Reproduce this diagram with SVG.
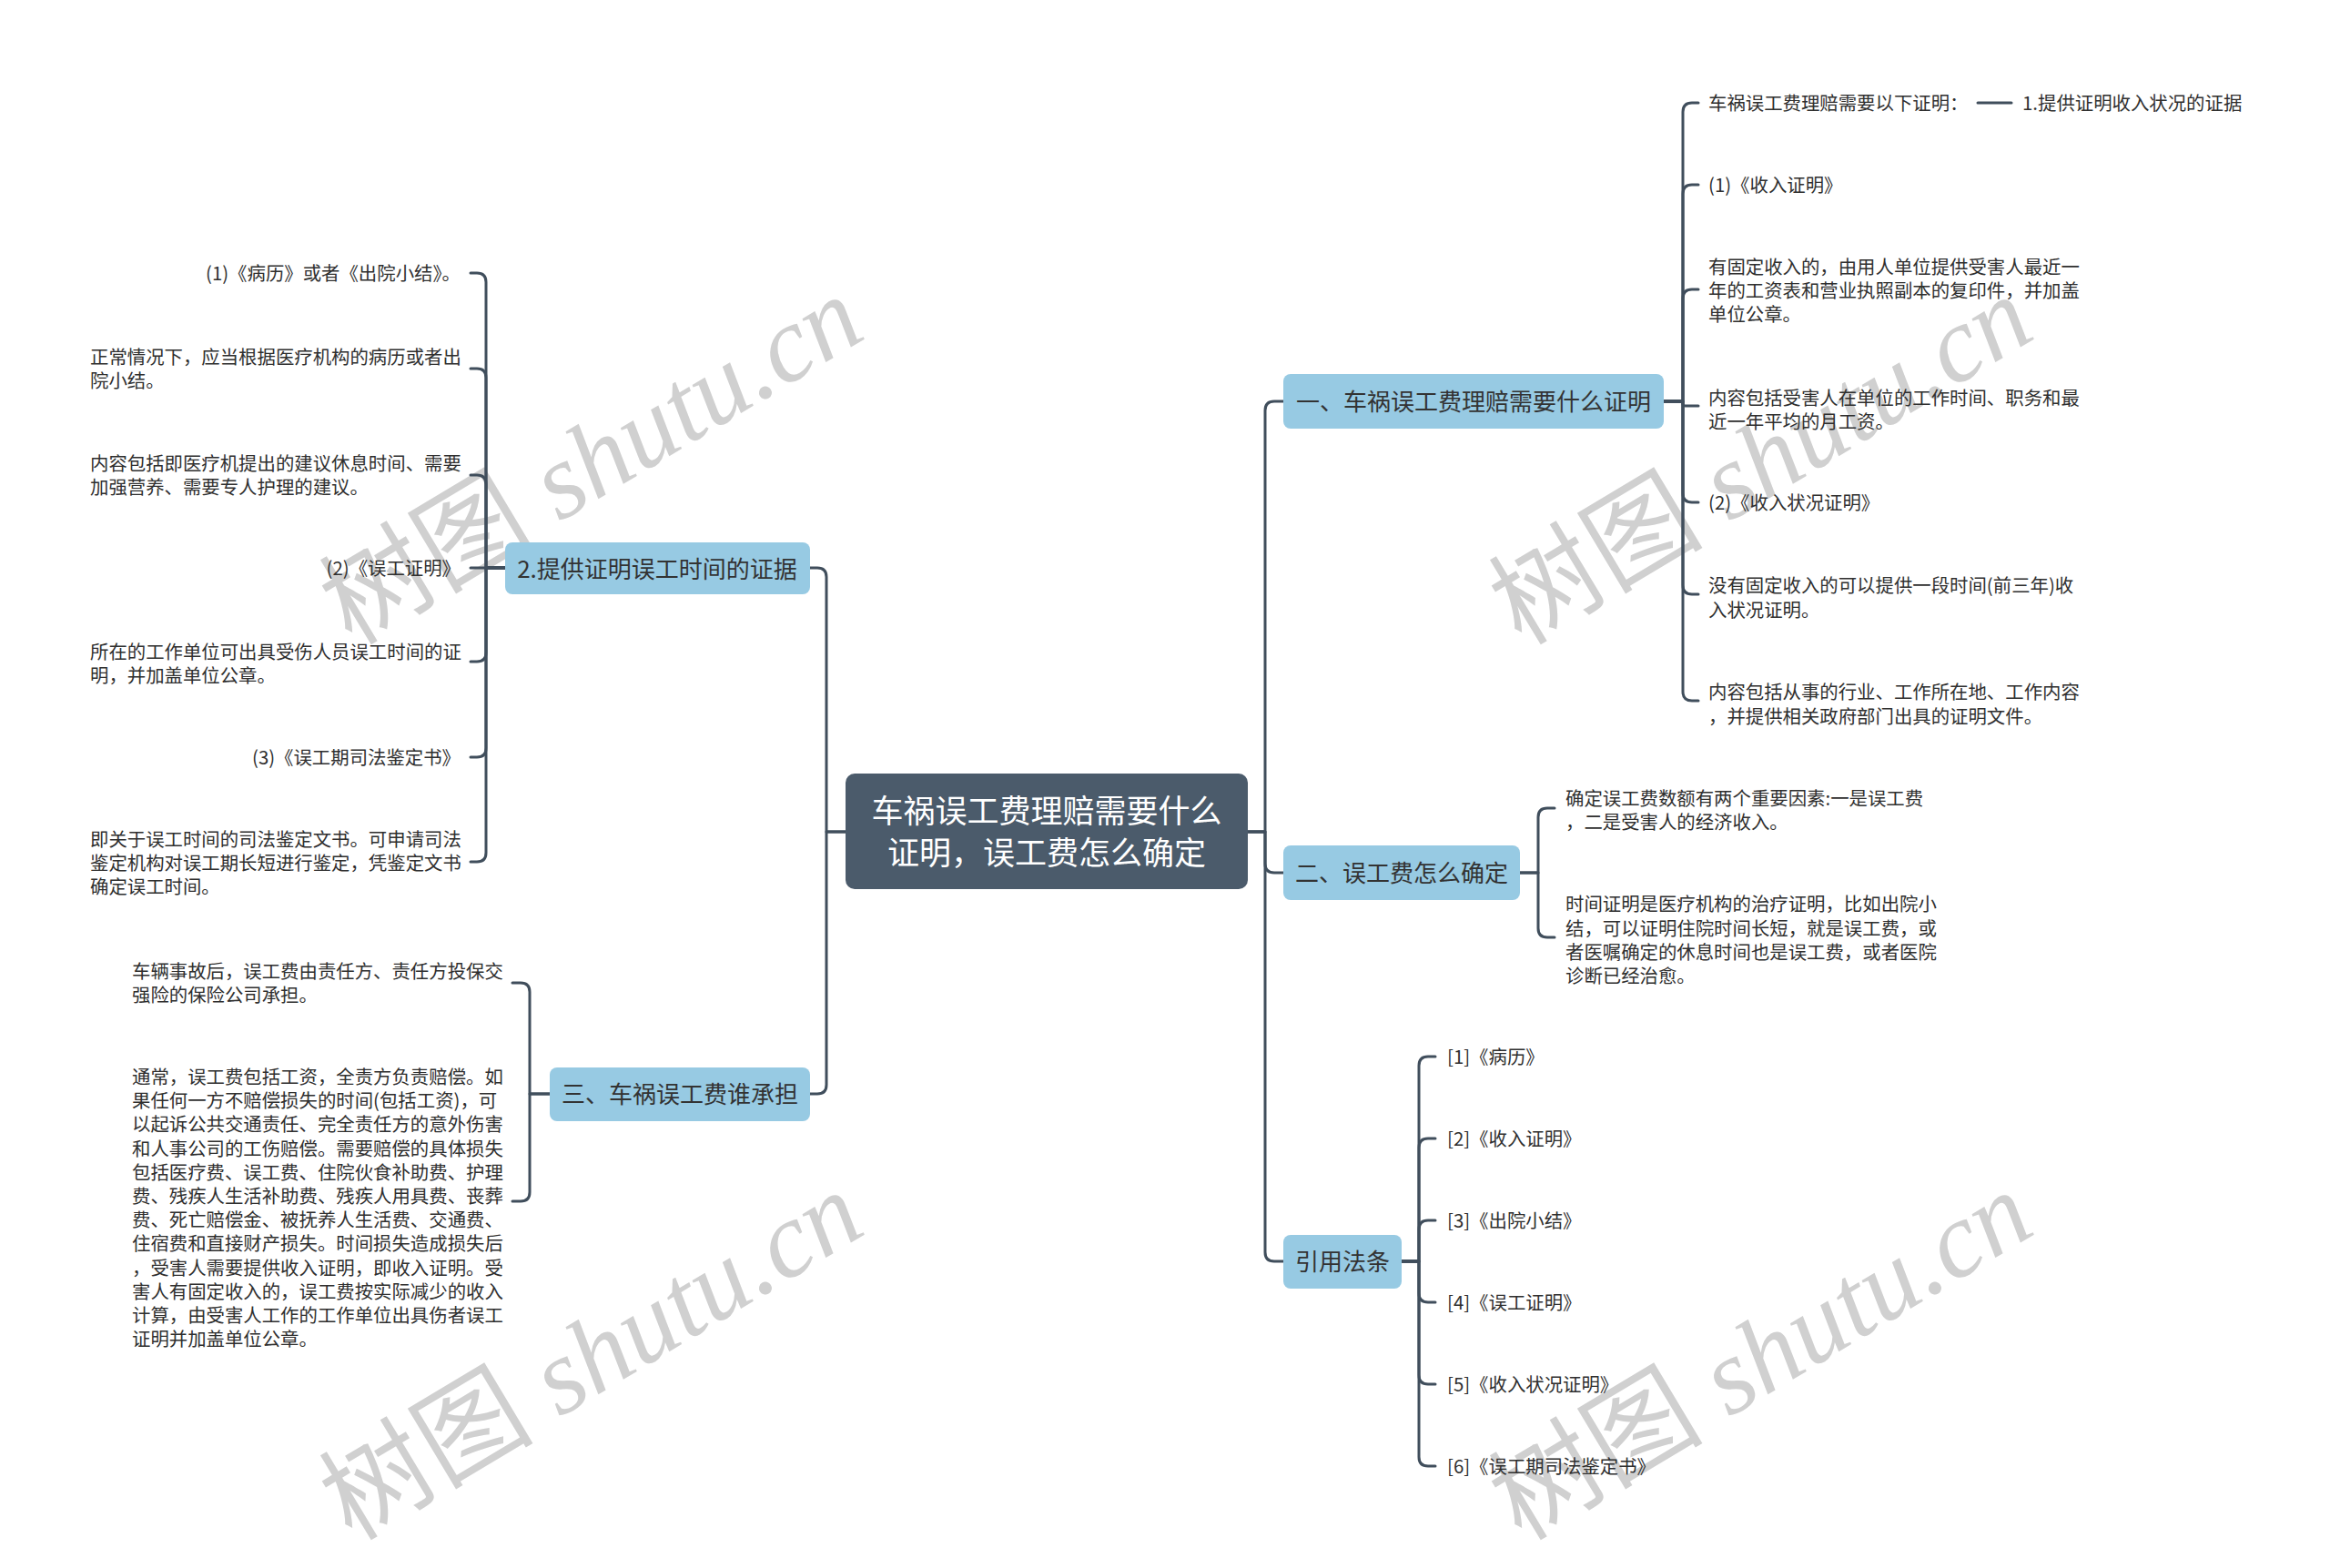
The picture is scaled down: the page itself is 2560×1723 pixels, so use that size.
<svg xmlns="http://www.w3.org/2000/svg" width="2560" height="1723" viewBox="0 0 2560 1723">
<style>
.ln{fill:none;stroke:#404e5c;stroke-width:3;stroke-linecap:round;stroke-linejoin:round}
.t{font-family:"Noto Sans CJK SC","Noto Sans",sans-serif;font-size:20.4px;fill:#2f2f2f;dominant-baseline:central}
.e{text-anchor:end}
.bx{fill:#97cae3}
.nt{font-family:"Noto Sans CJK SC","Noto Sans",sans-serif;font-size:26px;fill:#333;text-anchor:middle;dominant-baseline:central}
.rt{font-family:"Noto Sans CJK SC","Noto Sans",sans-serif;font-size:35px;fill:#ffffff;text-anchor:middle;dominant-baseline:central}
.wm{font-family:"Liberation Serif","Noto Sans CJK SC",serif;font-size:118px;fill:#d0d0d0;text-anchor:middle;dominant-baseline:central}
.wm tspan.i{font-style:italic}
</style>
<rect width="2560" height="1723" fill="#ffffff"/>
<g id="watermarks">
<text class="wm" transform="translate(650,506) rotate(-31)">树图 <tspan class="i">shutu.cn</tspan></text>
<text class="wm" transform="translate(1935,506) rotate(-31)">树图 <tspan class="i">shutu.cn</tspan></text>
<text class="wm" transform="translate(650,1490) rotate(-31)">树图 <tspan class="i">shutu.cn</tspan></text>
<text class="wm" transform="translate(1935,1490) rotate(-31)">树图 <tspan class="i">shutu.cn</tspan></text>
</g>
<g id="connectors">
<path class="ln" d="M929,914 H908 V634 Q908,624 898,624 H890"/>
<path class="ln" d="M929,914 H908 V1192 Q908,1202 898,1202 H890"/>
<path class="ln" d="M1371,914 H1390 V451 Q1390,441 1400,441 H1410"/>
<path class="ln" d="M1371,914 H1390 V949 Q1390,959 1400,959 H1410"/>
<path class="ln" d="M1371,914 H1390 V1376 Q1390,1386 1400,1386 H1410"/>
<path class="ln" d="M555,624 H534 V310 Q534,300 524,300 H517"/>
<path class="ln" d="M555,624 H534 V415 Q534,405 524,405 H517"/>
<path class="ln" d="M555,624 H534 V532 Q534,522 524,522 H517"/>
<path class="ln" d="M555,624 H517"/>
<path class="ln" d="M555,624 H534 V717 Q534,727 524,727 H517"/>
<path class="ln" d="M555,624 H534 V822 Q534,832 524,832 H517"/>
<path class="ln" d="M555,624 H534 V937 Q534,947 524,947 H517"/>
<path class="ln" d="M604,1202 H582 V1090 Q582,1080 572,1080 H563"/>
<path class="ln" d="M604,1202 H582 V1310 Q582,1320 572,1320 H563"/>
<path class="ln" d="M1828,441 H1849 V123 Q1849,113 1859,113 H1866"/>
<path class="ln" d="M1828,441 H1849 V213 Q1849,203 1859,203 H1866"/>
<path class="ln" d="M1828,441 H1849 V328 Q1849,318 1859,318 H1866"/>
<path class="ln" d="M1828,441 H1849 V443.5 Q1849,446 1851.5,446 H1866"/>
<path class="ln" d="M1828,441 H1849 V542 Q1849,552 1859,552 H1866"/>
<path class="ln" d="M1828,441 H1849 V643 Q1849,653 1859,653 H1866"/>
<path class="ln" d="M1828,441 H1849 V760 Q1849,770 1859,770 H1866"/>
<path class="ln" d="M2173,113 H2210"/>
<path class="ln" d="M1670,959 H1690 V898 Q1690,888 1700,888 H1708"/>
<path class="ln" d="M1670,959 H1690 V1020 Q1690,1030 1700,1030 H1708"/>
<path class="ln" d="M1540,1386 H1559 V1171 Q1559,1161 1569,1161 H1577"/>
<path class="ln" d="M1540,1386 H1559 V1261 Q1559,1251 1569,1251 H1577"/>
<path class="ln" d="M1540,1386 H1559 V1351 Q1559,1341 1569,1341 H1577"/>
<path class="ln" d="M1540,1386 H1559 V1421 Q1559,1431 1569,1431 H1577"/>
<path class="ln" d="M1540,1386 H1559 V1511 Q1559,1521 1569,1521 H1577"/>
<path class="ln" d="M1540,1386 H1559 V1601 Q1559,1611 1569,1611 H1577"/>
</g>
<g id="root">
<rect x="929" y="850" width="442" height="127" rx="10" fill="#4b5b6b"/>
<text class="rt"><tspan x="1150" y="888">车祸误工费理赔需要什么</tspan><tspan x="1150" y="934">证明，误工费怎么确定</tspan></text>
</g>
<g id="n-left-1">
<rect class="bx" x="555" y="596" width="335" height="57" rx="8"/>
<text class="nt" x="722" y="623.5">2.提供证明误工时间的证据</text>
</g>
<g id="n-left-2">
<rect class="bx" x="604" y="1173" width="286" height="59" rx="8"/>
<text class="nt" x="747" y="1200.5">三、车祸误工费谁承担</text>
</g>
<g id="n-right-1">
<rect class="bx" x="1410" y="411" width="418" height="60" rx="8"/>
<text class="nt" x="1619" y="439.5">一、车祸误工费理赔需要什么证明</text>
</g>
<g id="n-right-2">
<rect class="bx" x="1410" y="929" width="260" height="60" rx="8"/>
<text class="nt" x="1540" y="957.5">二、误工费怎么确定</text>
</g>
<g id="n-right-3">
<rect class="bx" x="1410" y="1357" width="130" height="59" rx="8"/>
<text class="nt" x="1475" y="1384.5">引用法条</text>
</g>
<g id="leaves-left-1" transform="translate(0,-1.5)">
<text class="t e" x="506" y="300">(1)《病历》或者《出院小结》。</text>
<text class="t" x="99" y="392">正常情况下，应当根据医疗机构的病历或者出</text>
<text class="t" x="99" y="418">院小结。</text>
<text class="t" x="99" y="509">内容包括即医疗机提出的建议休息时间、需要</text>
<text class="t" x="99" y="535">加强营养、需要专人护理的建议。</text>
<text class="t e" x="506" y="624">(2)《误工证明》</text>
<text class="t" x="99" y="716">所在的工作单位可出具受伤人员误工时间的证</text>
<text class="t" x="99" y="742">明，并加盖单位公章。</text>
<text class="t e" x="506" y="832">(3)《误工期司法鉴定书》</text>
<text class="t" x="99" y="922">即关于误工时间的司法鉴定文书。可申请司法</text>
<text class="t" x="99" y="948">鉴定机构对误工期长短进行鉴定，凭鉴定文书</text>
<text class="t" x="99" y="974">确定误工时间。</text>
</g>
<g id="leaves-left-2" transform="translate(0,-1.5)">
<text class="t" x="145" y="1067">车辆事故后，误工费由责任方、责任方投保交</text>
<text class="t" x="145" y="1093">强险的保险公司承担。</text>
<text class="t" x="145" y="1183">通常，误工费包括工资，全责方负责赔偿。如</text>
<text class="t" x="145" y="1209">果任何一方不赔偿损失的时间(包括工资)，可</text>
<text class="t" x="145" y="1235">以起诉公共交通责任、完全责任方的意外伤害</text>
<text class="t" x="145" y="1262">和人事公司的工伤赔偿。需要赔偿的具体损失</text>
<text class="t" x="145" y="1288">包括医疗费、误工费、住院伙食补助费、护理</text>
<text class="t" x="145" y="1314">费、残疾人生活补助费、残疾人用具费、丧葬</text>
<text class="t" x="145" y="1340">费、死亡赔偿金、被抚养人生活费、交通费、</text>
<text class="t" x="145" y="1366">住宿费和直接财产损失。时间损失造成损失后</text>
<text class="t" x="145" y="1393">，受害人需要提供收入证明，即收入证明。受</text>
<text class="t" x="145" y="1419">害人有固定收入的，误工费按实际减少的收入</text>
<text class="t" x="145" y="1445">计算，由受害人工作的工作单位出具伤者误工</text>
<text class="t" x="145" y="1471">证明并加盖单位公章。</text>
</g>
<g id="leaves-right-1" transform="translate(0,-1.5)">
<text class="t" x="1877" y="113">车祸误工费理赔需要以下证明：</text>
<text class="t" x="2222" y="113">1.提供证明收入状况的证据</text>
<text class="t" x="1877" y="203">(1)《收入证明》</text>
<text class="t" x="1877" y="293">有固定收入的，由用人单位提供受害人最近一</text>
<text class="t" x="1877" y="319">年的工资表和营业执照副本的复印件，并加盖</text>
<text class="t" x="1877" y="345">单位公章。</text>
<text class="t" x="1877" y="437">内容包括受害人在单位的工作时间、职务和最</text>
<text class="t" x="1877" y="463">近一年平均的月工资。</text>
<text class="t" x="1877" y="552">(2)《收入状况证明》</text>
<text class="t" x="1877" y="643">没有固定收入的可以提供一段时间(前三年)收</text>
<text class="t" x="1877" y="670">入状况证明。</text>
<text class="t" x="1877" y="760">内容包括从事的行业、工作所在地、工作内容</text>
<text class="t" x="1877" y="787">，并提供相关政府部门出具的证明文件。</text>
</g>
<g id="leaves-right-2" transform="translate(0,-1.5)">
<text class="t" x="1720" y="877">确定误工费数额有两个重要因素:一是误工费</text>
<text class="t" x="1720" y="903">，二是受害人的经济收入。</text>
<text class="t" x="1720" y="993">时间证明是医疗机构的治疗证明，比如出院小</text>
<text class="t" x="1720" y="1020">结，可以证明住院时间长短，就是误工费，或</text>
<text class="t" x="1720" y="1046">者医嘱确定的休息时间也是误工费，或者医院</text>
<text class="t" x="1720" y="1072">诊断已经治愈。</text>
</g>
<g id="leaves-right-3" transform="translate(0,-1.5)">
<text class="t" x="1590" y="1161">[1]《病历》</text>
<text class="t" x="1590" y="1251">[2]《收入证明》</text>
<text class="t" x="1590" y="1341">[3]《出院小结》</text>
<text class="t" x="1590" y="1431">[4]《误工证明》</text>
<text class="t" x="1590" y="1521">[5]《收入状况证明》</text>
<text class="t" x="1590" y="1611">[6]《误工期司法鉴定书》</text>
</g>
</svg>
